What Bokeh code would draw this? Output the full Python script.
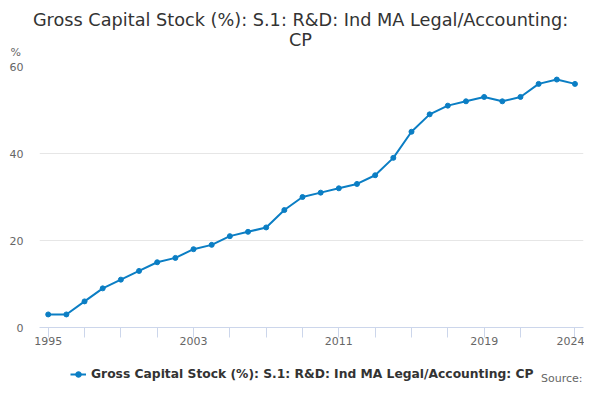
from bokeh.plotting import figure
from bokeh.models import Range1d, FixedTicker, Legend, LegendItem, Label
from bokeh.layouts import column
from bokeh.embed import file_html
from bokeh.resources import INLINE

years = list(range(1995, 2025))
values = [3, 3, 6, 9, 11, 13, 15, 16, 18, 19, 21, 22, 23, 27, 30,
          31, 32, 33, 35, 39, 45, 49, 51, 52, 53, 52, 53, 56, 57, 56]
series_name = "Gross Capital Stock (%): S.1: R&D: Ind MA Legal/Accounting: CP"
title_line1 = "Gross Capital Stock (%): S.1: R&D: Ind MA Legal/Accounting:"
title_line2 = "CP"
y_ticks = [0, 20, 40, 60]
x_ticks = [1995, 1997, 1999, 2001, 2003, 2005, 2007, 2009, 2011, 2013,
           2015, 2017, 2019, 2021, 2024]
x_labels = [1995, 2003, 2011, 2019, 2024]
unit_label = "%"
source_text = "Source:"

FONT = "DejaVu Sans"
LINE_COLOR = "#0b7ec4"
W = 584


def no_align(f):
    if "frame_align" in f.properties():
        f.frame_align = False


def blank_fig(h):
    f = figure(width=W, height=h, output_backend="svg", toolbar_location=None,
               x_range=Range1d(0, W), y_range=Range1d(0, h),
               x_axis_location=None, y_axis_location=None,
               min_border=0, min_border_left=0, min_border_right=0,
               min_border_top=0, min_border_bottom=0, title=None)
    f.outline_line_color = None
    f.grid.grid_line_color = None
    f.background_fill_color = "white"
    f.border_fill_color = "white"
    no_align(f)
    return f


# ---- top: title + unit ----
top = blank_fig(59)
for txt, yy in ((title_line1, 40), (title_line2, 20)):
    top.add_layout(Label(x=300, y=yy, text=txt, text_font=FONT,
                         text_font_size="17.7px", text_color="#333333",
                         text_align="center", text_baseline="alphabetic"))
top.add_layout(Label(x=10, y=7, text=unit_label, text_font=FONT,
                     text_font_size="11px", text_color="#666666",
                     text_align="left", text_baseline="alphabetic"))

# ---- main plot ----
p = figure(width=W, height=293, output_backend="svg", toolbar_location=None,
           x_range=Range1d(1994.52, 2024.47), y_range=Range1d(0, 60),
           min_border_left=39, min_border_right=1, min_border_top=7,
           min_border_bottom=25, title=None)
p.outline_line_color = None
p.background_fill_color = "white"
p.border_fill_color = "white"
no_align(p)

p.line(years, values, line_color=LINE_COLOR, line_width=2)
p.scatter(years, values, size=5, fill_color=LINE_COLOR,
          line_color=LINE_COLOR, marker="circle")

xa = p.xaxis[0]
xa.ticker = FixedTicker(ticks=x_ticks)
xa.major_label_overrides = {t: (str(t) if t in x_labels else "") for t in x_ticks}
xa.axis_line_color = "#ccd6eb"
xa.major_tick_line_color = "#ccd6eb"
xa.major_tick_out = 10
xa.major_tick_in = 0
xa.minor_tick_line_color = None
xa.major_label_standoff = -1
xa.major_label_text_font = FONT
xa.major_label_text_font_size = "11px"
xa.major_label_text_color = "#666666"

ya = p.yaxis[0]
ya.ticker = FixedTicker(ticks=y_ticks)
ya.axis_line_color = None
ya.major_tick_line_color = None
ya.minor_tick_line_color = None
ya.major_tick_out = 0
ya.major_tick_in = 0
ya.major_label_standoff = 16
ya.major_label_text_font = FONT
ya.major_label_text_font_size = "11px"
ya.major_label_text_color = "#666666"

p.xgrid.grid_line_color = None
p.ygrid.grid_line_color = "#e6e6e6"
p.ygrid.ticker = FixedTicker(ticks=y_ticks)

# ---- bottom: legend + source ----
bot = blank_fig(32)
# same series, drawn outside this strip's visible range: only its legend key shows
bot.extra_x_ranges = {"off": Range1d(0, 1)}
bot.extra_y_ranges = {"off": Range1d(1000, 1001)}
lg_line = bot.line(years, values, line_color=LINE_COLOR, line_width=2,
                   x_range_name="off", y_range_name="off")
lg_pts = bot.scatter(years, values, size=5, fill_color=LINE_COLOR,
                     line_color=LINE_COLOR, marker="circle",
                     x_range_name="off", y_range_name="off")
legend = Legend(items=[LegendItem(label=series_name, renderers=[lg_line, lg_pts])],
                location=(70, 3), orientation="horizontal",
                label_text_font=FONT, label_text_font_size="12.3px",
                label_text_font_style="bold", label_text_color="#333333",
                border_line_color=None, background_fill_alpha=0,
                glyph_width=16, glyph_height=14, label_standoff=5,
                label_height=14, padding=0, margin=0, spacing=0)
bot.add_layout(legend, "center")
bot.add_layout(Label(x=582, y=6, text=source_text, text_font=FONT,
                     text_font_size="11px", text_color="#666666",
                     text_align="right", text_baseline="alphabetic"))

layout = column(top, p, bot, spacing=0)
open("out.html", "w").write(file_html(layout, INLINE))
